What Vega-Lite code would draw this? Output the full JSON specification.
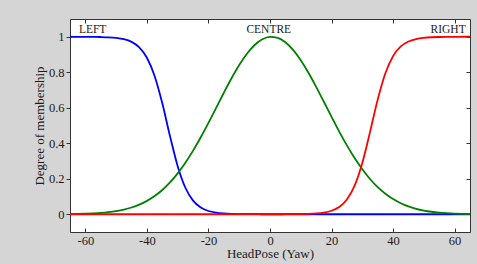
{
  "$schema": "https://vega.github.io/schema/vega-lite/v6.json",
  "width": 400,
  "height": 213,
  "autosize": {"type": "none"},
  "padding": {"left": 70, "top": 19, "right": 7, "bottom": 32},
  "background": "#d5d5d5",
  "config": {
    "view": {"fill": "white", "stroke": null},
    "font": "Liberation Serif",
    "axis": {
      "grid": false,
      "labelFont": "Liberation Serif",
      "titleFont": "Liberation Serif",
      "labelFontSize": 12.5,
      "titleFontSize": 13,
      "titleFontWeight": "normal",
      "labelColor": "#1a1a1a",
      "titleColor": "#1a1a1a",
      "domainColor": "#333333",
      "tickColor": "#333333"
    }
  },
  "data": {
    "values": [
      {"x": -65, "L": 0.9999, "C": 0.0012, "R": 0},
      {"x": -62.5, "L": 0.9998, "C": 0.0019, "R": 0},
      {"x": -60, "L": 0.9997, "C": 0.0031, "R": 0},
      {"x": -57.5, "L": 0.9993, "C": 0.005, "R": 0},
      {"x": -55, "L": 0.9985, "C": 0.0077, "R": 0},
      {"x": -52.5, "L": 0.9969, "C": 0.0119, "R": 0},
      {"x": -50, "L": 0.9934, "C": 0.0179, "R": 0},
      {"x": -47.5, "L": 0.9861, "C": 0.0264, "R": 0},
      {"x": -45, "L": 0.971, "C": 0.0381, "R": 0},
      {"x": -42.5, "L": 0.9405, "C": 0.054, "R": 0},
      {"x": -40, "L": 0.8818, "C": 0.0752, "R": 0},
      {"x": -37.5, "L": 0.779, "C": 0.1024, "R": 0},
      {"x": -35, "L": 0.6248, "C": 0.1368, "R": 0},
      {"x": -32.5, "L": 0.4403, "C": 0.1794, "R": 0},
      {"x": -30, "L": 0.2709, "C": 0.2304, "R": 0},
      {"x": -27.5, "L": 0.1493, "C": 0.2902, "R": 0},
      {"x": -25, "L": 0.0766, "C": 0.3584, "R": 0},
      {"x": -22.5, "L": 0.0377, "C": 0.434, "R": 0},
      {"x": -20, "L": 0.0182, "C": 0.5152, "R": 0},
      {"x": -17.5, "L": 0.0087, "C": 0.5997, "R": 0},
      {"x": -15, "L": 0.0041, "C": 0.6845, "R": 0},
      {"x": -12.5, "L": 0.0019, "C": 0.7659, "R": 0},
      {"x": -10, "L": 0.0009, "C": 0.8403, "R": 0},
      {"x": -7.5, "L": 0.0004, "C": 0.9039, "R": 0},
      {"x": -5, "L": 0.0002, "C": 0.9534, "R": 0},
      {"x": -2.5, "L": 0.0001, "C": 0.9859, "R": 0},
      {"x": 0, "L": 0, "C": 0.9996, "R": 0},
      {"x": 2.5, "L": 0, "C": 0.9937, "R": 0.0001},
      {"x": 5, "L": 0, "C": 0.9686, "R": 0.0002},
      {"x": 7.5, "L": 0, "C": 0.9256, "R": 0.0005},
      {"x": 10, "L": 0, "C": 0.8673, "R": 0.001},
      {"x": 12.5, "L": 0, "C": 0.7968, "R": 0.0021},
      {"x": 15, "L": 0, "C": 0.7176, "R": 0.0045},
      {"x": 17.5, "L": 0, "C": 0.6337, "R": 0.0095},
      {"x": 20, "L": 0, "C": 0.5488, "R": 0.0198},
      {"x": 22.5, "L": 0, "C": 0.4659, "R": 0.0411},
      {"x": 25, "L": 0, "C": 0.3878, "R": 0.0832},
      {"x": 27.5, "L": 0, "C": 0.3165, "R": 0.1611},
      {"x": 30, "L": 0, "C": 0.2533, "R": 0.289},
      {"x": 32.5, "L": 0, "C": 0.1987, "R": 0.4626},
      {"x": 35, "L": 0, "C": 0.1529, "R": 0.6457},
      {"x": 37.5, "L": 0, "C": 0.1153, "R": 0.7941},
      {"x": 40, "L": 0, "C": 0.0853, "R": 0.8909},
      {"x": 42.5, "L": 0, "C": 0.0618, "R": 0.9453},
      {"x": 45, "L": 0, "C": 0.0439, "R": 0.9734},
      {"x": 47.5, "L": 0, "C": 0.0306, "R": 0.9873},
      {"x": 50, "L": 0, "C": 0.0209, "R": 0.9939},
      {"x": 52.5, "L": 0, "C": 0.014, "R": 0.9971},
      {"x": 55, "L": 0, "C": 0.0092, "R": 0.9986},
      {"x": 57.5, "L": 0, "C": 0.0059, "R": 0.9994},
      {"x": 60, "L": 0, "C": 0.0037, "R": 0.9997},
      {"x": 62.5, "L": 0, "C": 0.0023, "R": 0.9999},
      {"x": 65, "L": 0, "C": 0.0014, "R": 0.9999}
    ]
  },
  "layer": [
    {
      "mark": {"type": "line", "color": "#0000ff", "strokeWidth": 1.8, "interpolate": "monotone", "clip": true},
      "encoding": {
        "x": {"field": "x", "type": "quantitative", "scale": {"domain": [-65, 65], "nice": false, "zero": false},
          "axis": {"orient": "bottom", "values": [-60, -40, -20, 0, 20, 40, 60], "labelExpr": "'' + datum.value", "title": "HeadPose (Yaw)", "tickSize": -4, "labelPadding": 6, "titlePadding": 1}},
        "y": {"field": "L", "type": "quantitative", "scale": {"domain": [-0.1, 1.1], "nice": false, "zero": false},
          "axis": {"orient": "left", "values": [0, 0.2, 0.4, 0.6, 0.8, 1], "format": "~g", "title": "Degree of membership", "tickSize": 4, "labelPadding": 2, "titlePadding": 2}}
      }
    },
    {
      "mark": {"type": "line", "color": "#008000", "strokeWidth": 1.8, "interpolate": "monotone", "clip": true},
      "encoding": {
        "x": {"field": "x", "type": "quantitative", "scale": {"domain": [-65, 65], "nice": false, "zero": false}, "axis": null},
        "y": {"field": "C", "type": "quantitative", "scale": {"domain": [-0.1, 1.1], "nice": false, "zero": false}, "axis": null}
      }
    },
    {
      "mark": {"type": "line", "color": "#ff0000", "strokeWidth": 1.8, "interpolate": "monotone", "clip": true},
      "encoding": {
        "x": {"field": "x", "type": "quantitative", "scale": {"domain": [-65, 65], "nice": false, "zero": false},
          "axis": {"orient": "top", "values": [-60, -40, -20, 0, 20, 40, 60], "labels": false, "title": null, "tickSize": -4}},
        "y": {"field": "R", "type": "quantitative", "scale": {"domain": [-0.1, 1.1], "nice": false, "zero": false},
          "axis": {"orient": "right", "values": [0, 0.2, 0.4, 0.6, 0.8, 1], "labels": false, "title": null, "tickSize": -4}}
      }
    },
    {
      "data": {"values": [{"x": -62.1, "y": 1.02, "t": "LEFT"}]},
      "mark": {"type": "text", "align": "left", "baseline": "alphabetic", "fontSize": 11.5, "font": "Liberation Serif", "color": "#1a1a1a"},
      "encoding": {
        "x": {"field": "x", "type": "quantitative", "axis": null},
        "y": {"field": "y", "type": "quantitative", "axis": null},
        "text": {"field": "t"}
      }
    },
    {
      "data": {"values": [{"x": -0.4, "y": 1.02, "t": "CENTRE"}]},
      "mark": {"type": "text", "align": "center", "baseline": "alphabetic", "fontSize": 11.5, "font": "Liberation Serif", "color": "#1a1a1a"},
      "encoding": {
        "x": {"field": "x", "type": "quantitative", "axis": null},
        "y": {"field": "y", "type": "quantitative", "axis": null},
        "text": {"field": "t"}
      }
    },
    {
      "data": {"values": [{"x": 63.6, "y": 1.02, "t": "RIGHT"}]},
      "mark": {"type": "text", "align": "right", "baseline": "alphabetic", "fontSize": 11.5, "font": "Liberation Serif", "color": "#1a1a1a"},
      "encoding": {
        "x": {"field": "x", "type": "quantitative", "axis": null},
        "y": {"field": "y", "type": "quantitative", "axis": null},
        "text": {"field": "t"}
      }
    }
  ],
  "resolve": {"axis": {"x": "independent", "y": "independent"}}
}
